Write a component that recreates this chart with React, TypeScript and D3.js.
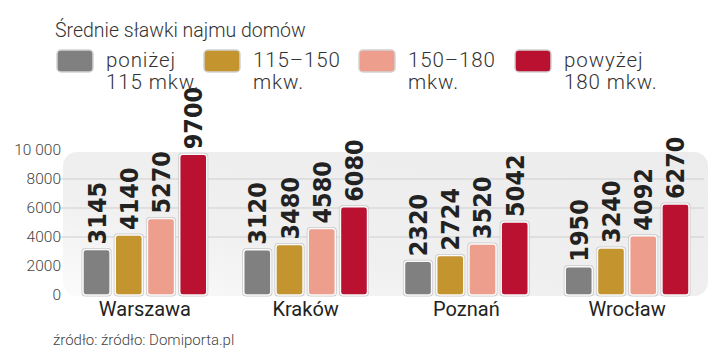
import React from 'react';
import * as d3 from 'd3';

const cities = ['Warszawa', 'Kraków', 'Poznań', 'Wrocław'];
const seriesNames = ['poniżej 115 mkw.', '115–150 mkw.', '150–180 mkw.', 'powyżej 180 mkw.'];
const legendLines = [
  ['poniżej', '115 mkw.'],
  ['115–150', 'mkw.'],
  ['150–180', 'mkw.'],
  ['powyżej', '180 mkw.'],
];
const below115 = [3145, 3120, 2320, 1950];
const from115to150 = [4140, 3480, 2724, 3240];
const from150to180 = [5270, 4580, 3520, 4092];
const above180 = [9700, 6080, 5042, 6270];
const yTicks = [0, 2000, 4000, 6000, 8000, 10000];
const colors = ['#808081', '#c4952f', '#ee9e8d', '#ba1131'];

const W = 720;
const H = 362;
const sans = 'Roboto, "Noto Sans", sans-serif';
const narrow = '"Liberation Sans Narrow", "DejaVu Sans Condensed", sans-serif';

export default function App() {
  const series = [below115, from115to150, from150to180, above180];

  const x = d3.scaleBand<string>().domain(cities).range([83, 689]).paddingInner(0.23).paddingOuter(0);
  const xi = d3
    .scaleBand<string>()
    .domain(seriesNames)
    .range([0, x.bandwidth()])
    .paddingInner(0.16)
    .paddingOuter(0);
  const y = d3.scaleLinear().domain([0, 10000]).range([295, 150]);

  const fmt = (v: number) => (v >= 10000 ? d3.format(',')(v).replace(',', ' ') : String(v));
  const legendX = [57, 204, 359, 515];

  return (
    <svg width={W} height={H} style={{ position: 'absolute', left: 0, top: 0, background: '#fff' }}>
      <defs>
        <linearGradient id="panel" x1="0" y1="1" x2="1" y2="0">
          <stop offset="0" stopColor="#fbfbfb" />
          <stop offset="0.35" stopColor="#f0f0f0" />
          <stop offset="1" stopColor="#ececec" />
        </linearGradient>
      </defs>

      {/* title */}
      <text x={55} y={37} fontFamily={sans} fontWeight={300} fontSize={19.5} fill="#333">
        Średnie sławki najmu domów
      </text>

      {/* legend */}
      {legendLines.map((lines, i) => (
        <g key={i} transform={`translate(${legendX[i]},0)`}>
          <rect x={0} y={50} width={36} height={22} rx={4} fill={colors[i]} stroke="#d2d2d2" strokeWidth={1.5} />
          <text x={49} y={67} fontFamily={sans} fontWeight={300} fontSize={20.5} letterSpacing={0.9} fill="#333">
            {lines[0]}
          </text>
          <text x={49} y={89} fontFamily={sans} fontWeight={300} fontSize={20.5} letterSpacing={0.9} fill="#333">
            {lines[1]}
          </text>
        </g>
      ))}

      {/* background panel */}
      <rect x={63} y={152} width={645} height={144} rx={14} fill="url(#panel)" />

      {/* grid lines */}
      {yTicks
        .filter(t => t > 2000 && t < 10000)
        .map(t => (
          <line key={t} x1={60} x2={704} y1={y(t)} y2={y(t)} stroke="#cfcfcf" strokeWidth={1} />
        ))}

      {/* y tick labels */}
      {yTicks.map(t => (
        <text
          key={t}
          x={61}
          y={y(t)}
          dy="0.35em"
          textAnchor="end"
          fontFamily={sans}
          fontWeight={300}
          fontSize={15.5}
          fill="#444"
        >
          {fmt(t)}
        </text>
      ))}

      {/* bars */}
      {cities.map((city, ci) => (
        <g key={city} transform={`translate(${x(city)},0)`}>
          {series.map((vals, si) => {
            const bx = xi(seriesNames[si]) as number;
            const bw = xi.bandwidth();
            const top = y(vals[ci]);
            const h = y(0) - top;
            return (
              <g key={si}>
                <rect x={bx - 1.5} y={top - 1.5} width={bw + 3} height={h + 3} rx={4} fill="#c9c9c9" />
                <rect x={bx} y={top} width={bw} height={h} rx={3} fill={colors[si]} stroke="#fafafa" strokeWidth={1.5} />
                <text
                  transform={`translate(${bx + bw / 2},${top - 5}) rotate(-90)`}
                  dy="0.36em"
                  fontFamily={narrow}
                  fontWeight={700}
                  fontSize={25}
                  fill="#222"
                >
                  {vals[ci]}
                </text>
              </g>
            );
          })}
          <text
            x={x.bandwidth() / 2}
            y={316}
            textAnchor="middle"
            fontFamily={sans}
            fontSize={20}
            fill="#222"
          >
            {city}
          </text>
        </g>
      ))}

      {/* source */}
      <text x={53} y={345} fontFamily={sans} fontWeight={300} fontSize={15} fill="#444">
        źródło: źródło: Domiporta.pl
      </text>
    </svg>
  );
}
